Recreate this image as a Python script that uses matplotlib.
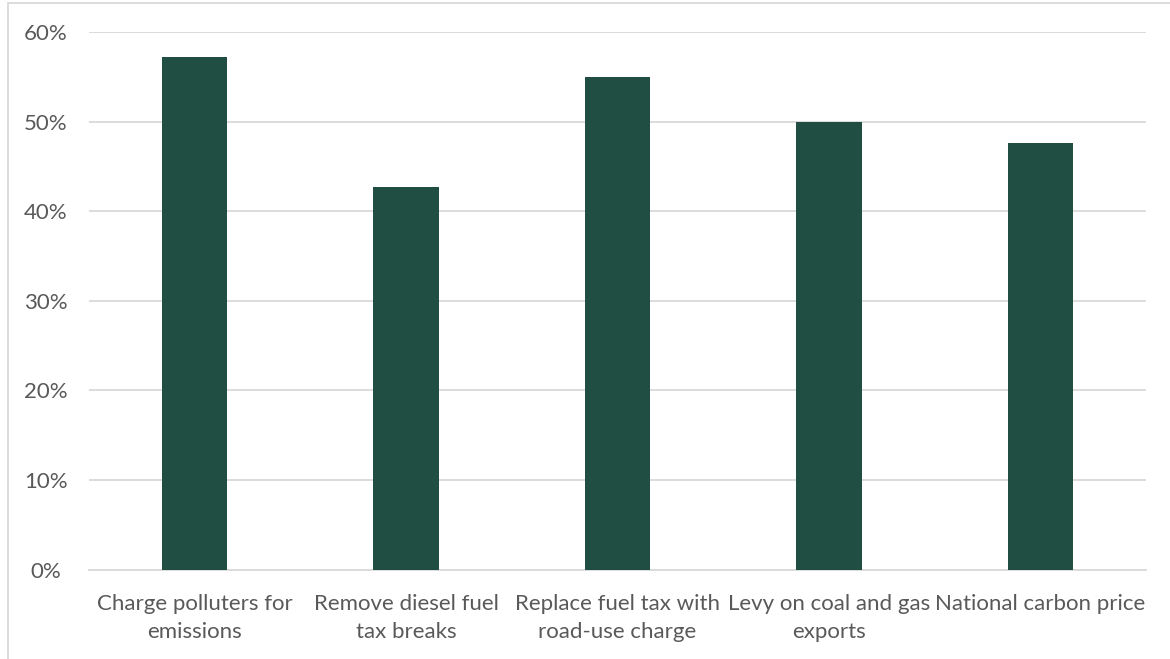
import matplotlib
matplotlib.use("Agg")
import matplotlib.pyplot as plt
from matplotlib.patches import Rectangle
from matplotlib.ticker import FuncFormatter

# Share of respondents supporting each policy
categories = [
    "Charge polluters for\nemissions",
    "Remove diesel fuel\ntax breaks",
    "Replace fuel tax with\nroad-use charge",
    "Levy on coal and gas\nexports",
    "National carbon price",
]
support = [57.2, 42.7, 55.0, 50.0, 47.6]
y_ticks = [0, 10, 20, 30, 40, 50, 60]

BAR_COLOR = "#214E43"
GRID_COLOR = "#D9D9D9"
TEXT_COLOR = "#595959"

plt.rcParams["font.family"] = ["Lato", "DejaVu Sans"]

W, H = 1170, 659
fig = plt.figure(figsize=(W / 100, H / 100), dpi=100)
ax = fig.add_axes([89 / W, 1 - 569.5 / H, (1146 - 89) / W, (569.5 - 32) / H])

x = range(len(categories))
ax.bar(x, support, width=0.31, color=BAR_COLOR, zorder=3)

ax.set_xlim(-0.5, len(categories) - 0.5)
ax.set_ylim(0, 60)
ax.set_yticks(y_ticks)
ax.yaxis.set_major_formatter(FuncFormatter(lambda v, _: f"{v:.0f}%"))
ax.grid(axis="y", color=GRID_COLOR, linewidth=1.3, zorder=0)

for side in ("top", "right", "left"):
    ax.spines[side].set_visible(False)
ax.spines["bottom"].set_color(GRID_COLOR)
ax.spines["bottom"].set_linewidth(1.3)

ax.set_xticks(list(x))
ax.set_xticklabels(categories, linespacing=1.45)
ax.tick_params(axis="x", length=0, pad=18, labelsize=16, colors=TEXT_COLOR)
ax.tick_params(axis="y", length=0, pad=31, labelsize=16, colors=TEXT_COLOR)
for lbl in ax.get_yticklabels():
    lbl.set_horizontalalignment("center")

# Light frame around the chart area
fig.patches.append(Rectangle((8 / W, -0.01), 1.02 - 8 / W, 1 - 3 / H + 0.01,
                             transform=fig.transFigure, fill=False,
                             edgecolor=GRID_COLOR, linewidth=1.3))

fig.savefig("out.png", dpi=100, facecolor="white")
